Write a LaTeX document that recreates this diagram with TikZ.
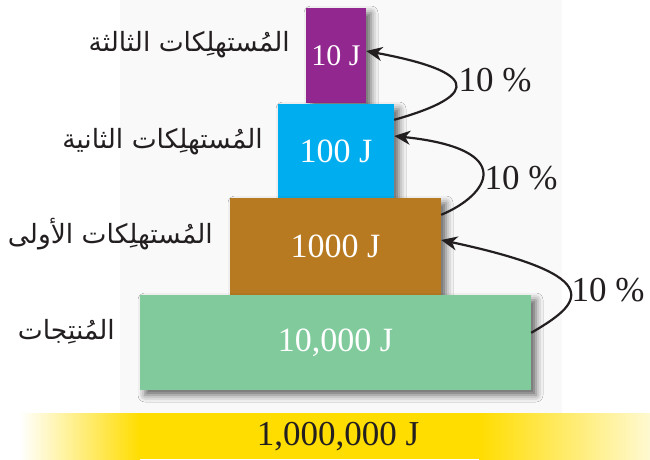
\documentclass[tikz,border=0pt]{standalone}
\usepackage{fontspec}
\setmainfont{Liberation Serif}
\newfontfamily\arabicfont[Script=Arabic]{DejaVu Sans}
\TeXXeTstate=1
\usetikzlibrary{arrows.meta,shadows.blur}
\definecolor{purpleC}{RGB}{146,39,143}
\definecolor{blueC}{RGB}{0,174,239}
\definecolor{brownC}{RGB}{184,122,32}
\definecolor{greenC}{RGB}{128,202,156}
\definecolor{yellowC}{RGB}{255,221,0}
\definecolor{bandC}{RGB}{249,249,249}
\definecolor{inkC}{RGB}{35,31,32}
\tikzset{
  level/.style={rectangle, inner sep=0pt, text=white,
    font=\fontsize{34}{38}\selectfont,
    blur shadow={shadow xshift=5pt, shadow yshift=-5pt, shadow blur radius=7pt, shadow opacity=60}},
  pct/.style={text=inkC, inner sep=0pt, font=\fontsize{35}{40}\selectfont},
  arlabel/.style={text=inkC, inner sep=0pt, anchor=base east, font=\arabicfont\fontsize{26.5}{30}\selectfont},
  flow/.style={draw=inkC, line width=2.2pt, -{Stealth[length=16pt,width=14pt,inset=5pt]}}
}
\begin{document}
\begin{tikzpicture}[x=1pt, y=-1pt]
\useasboundingbox (0,0) rectangle (650,459);
\fill[white] (0,0) rectangle (650,459);
\fill[bandC] (120,0) rectangle (562,413);
% bottom bar
\shade[left color=white, right color=yellowC] (20,413) rectangle (140,459);
\fill[yellowC] (139,413) rectangle (480,459);
\shade[left color=yellowC, right color=yellowC!18] (479,413) rectangle (650,459);
\node[pct] (bar) at (338,437) {1,000,000 J};
% pyramid
\node[level, fill=purpleC, minimum width=60pt, minimum height=95pt, font=\fontsize{30}{34}\selectfont] (p3) at (336,55.5) {10 J};
\node[level, fill=blueC, minimum width=116pt, minimum height=94pt] (p2) at (336,151) {100 J};
\node[level, fill=brownC, minimum width=211pt, minimum height=97pt] (p1) at (335.5,246.5) {1000 J};
\node[level, fill=greenC, minimum width=391pt, minimum height=95pt] (p0) at (335.5,342.5) {10,000 J};
% labels
\node[arlabel] (a3) at (290,51) {\beginR المُستهلِكات الثالثة\endR};
\node[arlabel] (a2) at (263,148) {\beginR المُستهلِكات الثانية\endR};
\node[arlabel] (a1) at (213,243) {\beginR المُستهلِكات الأولى\endR};
\node[arlabel] (a0) at (115,339) {\beginR المُنتِجات\endR};
% arrows
\draw[flow] ([yshift=-16pt]p2.north east) .. controls +(71,-20) and +(129,24) .. ([yshift=4.5pt]p3.east);
\draw[flow] ([yshift=-17pt]p1.north east) .. controls +(48,-20) and +(124,13) .. ([yshift=15pt]p2.east);
\draw[flow] ([yshift=-38pt]p0.north east) .. controls +(48,-28) and +(173,37) .. ([yshift=6.5pt]p1.east);
\node[pct] (l3) at (495,80) {10 \%};
\node[pct] (l2) at (521,178) {10 \%};
\node[pct] (l1) at (608,290) {10 \%};
\end{tikzpicture}
\end{document}
